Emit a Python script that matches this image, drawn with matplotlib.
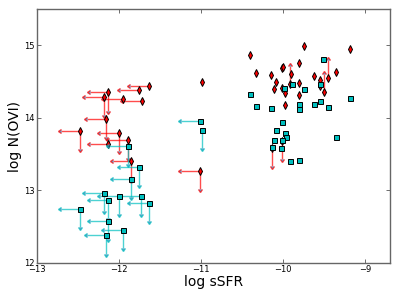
import numpy as np
import matplotlib
matplotlib.use("Agg")
import matplotlib.pyplot as plt

# ---- data ----
# red diamonds
red_x = [-11.64, -11.76, -12.13, -12.18, -11.955, -11.72, -12.16, -12.00, -12.48,
         -11.89, -12.13, -11.85, -11.01, -10.99,
         -10.40, -9.744, -9.187, -10.333, -10.15, -10.085, -10.012, -10.00, -9.90,
         -9.915, -9.813, -9.81, -10.118, -10.02, -9.984, -9.976, -9.81, -9.622,
         -9.553, -9.549, -9.508, -9.46, -9.357, -10.02, -10.134]
red_y = [14.44, 14.39, 14.35, 14.29, 14.26, 14.23, 13.98, 13.79, 13.82,
         13.69, 13.64, 13.40, 13.27, 14.50,
         14.86, 14.99, 14.95, 14.62, 14.59, 14.50, 14.69, 14.70, 14.61,
         14.47, 14.75, 14.48, 14.40, 14.415, 14.34, 14.18, 14.31, 14.57,
         14.52, 14.44, 14.36, 14.55, 14.63, 13.68, 13.58]
# limit flags: 'L' = sSFR upper limit, 'D' = N upper limit, 'U' = N lower limit
red_lim = ['L', 'L', 'LD', 'LD', 'L', 'L', 'LD', 'LD', 'LD',
           'LD', 'L', 'LD', 'LD', '',
           '', '', '', '', '', '', '', '', '',
           'U', '', '', '', '', '', '', '', '',
           '', '', 'U', 'U', '', 'D', 'D']

# cyan squares
cyan_x = [-11.89, -11.76, -11.85, -12.18, -12.13, -12.00, -11.73, -11.64, -12.48,
          -12.13, -11.955, -12.155, -11.01, -10.99,
          -10.40, -10.333, -10.15, -10.02, -10.085, -9.984, -9.972, -10.118, -10.016,
          -10.134, -10.028, -9.915, -9.805, -9.996, -9.894, -9.744, -9.81, -9.81,
          -9.622, -9.553, -9.557, -9.46, -9.522, -9.187, -9.36]
cyan_y = [13.61, 13.32, 13.16, 12.97, 12.87, 12.92, 12.93, 12.83, 12.74,
          12.58, 12.46, 12.38, 13.95, 13.83,
          14.33, 14.16, 14.13, 13.94, 13.83, 13.79, 13.74, 13.69, 13.69,
          13.60, 13.59, 13.41, 13.415, 14.41, 14.47, 14.40, 14.19, 14.12,
          14.19, 14.23, 14.46, 14.15, 14.81, 14.28, 13.74]
cyan_lim = ['LD', 'LD', 'LD', 'LD', 'LD', 'LD', 'LD', 'LD', 'LD',
            'LD', 'LD', 'LD', 'L', 'D',
            '', '', '', '', '', '', '', '', '',
            '', '', '', '', '', '', '', '', '',
            '', '', '', '', '', '', '']

x_arrow = 0.23
y_arrow = 0.25

xticks = [-13, -12, -11, -10, -9]
yticks = [12, 13, 14, 15]

# ---- plot ----
fig = plt.figure(figsize=(3.99, 2.99), dpi=100)
ax = fig.add_axes([37 / 399, 1 - 263 / 299, (390 - 37) / 399, (263 - 9) / 299])


def draw(xs, ys, lims, color, marker, msize, z):
    xs = np.asarray(xs)
    ys = np.asarray(ys)
    L = np.array(['L' in s for s in lims])
    D = np.array(['D' in s for s in lims])
    U = np.array(['U' in s for s in lims])
    kw = dict(fmt='none', ecolor=color, alpha=0.7, capsize=1.6, elinewidth=1.0,
              capthick=1.0, zorder=z)
    if L.any():
        ax.errorbar(xs[L], ys[L], xerr=x_arrow, xuplims=True, **kw)
    if D.any():
        ax.errorbar(xs[D], ys[D], yerr=y_arrow, uplims=True, **kw)
    if U.any():
        ax.errorbar(xs[U], ys[U], yerr=y_arrow, lolims=True, **kw)
    ax.plot(xs, ys, linestyle='none', marker=marker, markersize=msize,
            markerfacecolor=color, markeredgecolor='black', markeredgewidth=0.7,
            zorder=z + 1)


draw(red_x, red_y, red_lim, (1, 0, 0), 'd', 4.2, 2)
draw(cyan_x, cyan_y, cyan_lim, (0, 0.75, 0.75), 's', 3.6, 4)

ax.set_xlim(-13, -8.7)
ax.set_ylim(12, 15.5)
ax.set_xticks(xticks)
ax.set_yticks(yticks)
ax.set_xticklabels([f"\u2212{abs(t)}" for t in xticks])
ax.set_yticklabels([str(t) for t in yticks])
ax.tick_params(direction='in', top=True, right=True, labelsize=6, length=3,
               width=0.6, color='#555555', pad=1.5)
for sp in ax.spines.values():
    sp.set_color('#666666')
    sp.set_linewidth(1.0)
ax.set_xlabel('log sSFR', fontsize=10, labelpad=1)
ax.set_ylabel('log N(OVI)', fontsize=10, labelpad=2)

fig.savefig('out.png', dpi=100, facecolor='white')
